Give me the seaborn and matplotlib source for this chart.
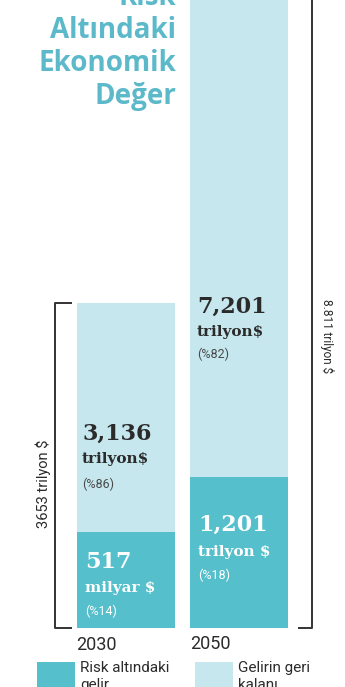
import matplotlib
matplotlib.use("Agg")
import matplotlib.pyplot as plt
import seaborn as sns
import pandas as pd
from matplotlib.lines import Line2D
from matplotlib.patches import Rectangle

# ---- data ----
years = ["2030", "2050"]
totals = [3.653, 8.811]            # trilyon $ (whole bar)
risk_drawn = [1.08, 1.70]          # drawn height of the "risk" segment (as in picture)
value_main = ["3,136", "7,201"]    # remaining part labels
value_main_unit = ["trilyon$", "trilyon$"]
value_main_pct = ["(%86)", "(%82)"]
value_risk = ["517", "1,201"]
value_risk_unit = ["milyar $", "trilyon $"]
value_risk_pct = ["(%14)", "(%18)"]
total_labels = ["3653 trilyon $", "8.811 trilyon $"]
title_lines = ["Risk", "Altındaki", "Ekonomik", "Değer"]
legend_labels = [["Risk altındaki", "gelir"], ["Gelirin geri", "kalanı"]]

DARK = "#55bfcb"
LIGHT = "#c6e7ee"
TITLE = "#5bb9c9"
INK = "#2b2b2b"

W, H = 345, 687
sns.set_theme(style="white")
plt.rcParams["font.family"] = ["DejaVu Sans"]
fig = plt.figure(figsize=(W / 100, H / 100), dpi=100)
fig.patch.set_facecolor("white")
ax = fig.add_axes([0, 0, 1, 1])

df = pd.DataFrame({"year": years, "total": totals, "risk": risk_drawn})
sns.barplot(data=df, x="year", y="total", color=LIGHT, saturation=1,
            width=0.867, ax=ax, linewidth=0)
sns.barplot(data=df, x="year", y="risk", color=DARK, saturation=1,
            width=0.867, ax=ax, linewidth=0)
ax.set_xlim(-1.115, 1.938)
ax.set_ylim(-0.663, 7.059)
ax.axis("off")


def P(x, y):
    return x / W, 1 - y / H


def txt(x, y, s, **kw):
    fx, fy = P(x, y)
    fig.text(fx, fy, s, transform=fig.transFigure, **kw)


# title
for s, yb in zip(title_lines, [5, 38, 71, 104]):
    txt(176, yb, s, ha="right", va="baseline", fontsize=20, fontweight="bold",
        color=TITLE, family="Open Sans")

serif = dict(family="DejaVu Serif", fontweight="bold")
light_f = dict(family="Roboto", fontweight="normal")

# 2030 labels
txt(82, 440, value_main[0], ha="left", va="baseline", fontsize=16, color=INK, **serif)
txt(82, 463, value_main_unit[0], ha="left", va="baseline", fontsize=11, color=INK, **serif)
txt(82, 484, value_main_pct[0], ha="left", va="center", fontsize=9, color="#4a4a4a", **light_f)
txt(85, 568, value_risk[0], ha="left", va="baseline", fontsize=16, color="white", **serif)
txt(85, 592, value_risk_unit[0], ha="left", va="baseline", fontsize=11, color="white", **serif)
txt(85, 611, value_risk_pct[0], ha="left", va="center", fontsize=9, color="white", **light_f)

# 2050 labels
txt(197, 313, value_main[1], ha="left", va="baseline", fontsize=16, color=INK, **serif)
txt(197, 336, value_main_unit[1], ha="left", va="baseline", fontsize=11, color=INK, **serif)
txt(197, 354, value_main_pct[1], ha="left", va="center", fontsize=9, color="#4a4a4a", **light_f)
txt(198, 531, value_risk[1], ha="left", va="baseline", fontsize=16, color="white", **serif)
txt(198, 556, value_risk_unit[1], ha="left", va="baseline", fontsize=11, color="white", **serif)
txt(198, 575, value_risk_pct[1], ha="left", va="center", fontsize=9, color="white", **light_f)

# year labels
txt(76, 645, years[0], ha="left", va="center", fontsize=13, color=INK, **light_f)
txt(190, 644, years[1], ha="left", va="center", fontsize=13, color=INK, **light_f)

# brackets
def fline(xs, ys, **kw):
    fx = [x / W for x in xs]
    fy = [1 - y / H for y in ys]
    fig.add_artist(Line2D(fx, fy, transform=fig.transFigure, **kw))

bk = dict(color="#333333", lw=1.4, solid_capstyle="butt")
fline([72, 55, 55, 72], [303, 303, 628, 628], **bk)
fline([312, 312, 298], [-5, 628, 628], **bk)

txt(43, 484, total_labels[0], ha="center", va="center", rotation=90,
    fontsize=10.5, color=INK, **light_f)
txt(327, 336, total_labels[1], ha="center", va="center", rotation=270,
    fontsize=8.5, color=INK, **light_f)

# legend
for (x0, col), lines, tx in zip([(37, DARK), (195, LIGHT)], legend_labels, [80, 238]):
    fx, fy = P(x0, 700)
    fig.add_artist(Rectangle((fx, fy), 38 / W, 38 / H, transform=fig.transFigure,
                             facecolor=col, edgecolor="none"))
    txt(tx, 668, lines[0], ha="left", va="center", fontsize=11, color=INK, **light_f)
    txt(tx, 685, lines[1], ha="left", va="center", fontsize=11, color=INK, **light_f)

fig.savefig("out.png", dpi=100)
